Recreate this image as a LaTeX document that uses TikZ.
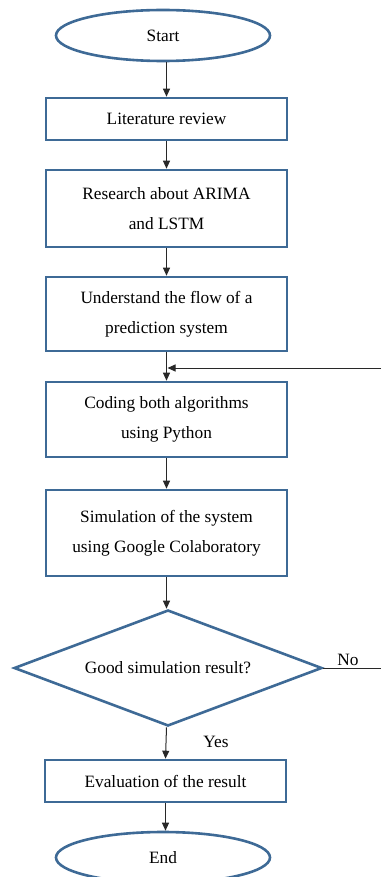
\documentclass[tikz,border=0pt]{standalone}
\usepackage{fontspec}
\setmainfont{Liberation Serif}
\usetikzlibrary{shapes.geometric,arrows.meta}
\definecolor{boxblue}{RGB}{62,106,150}
\definecolor{linegray}{RGB}{40,40,40}
\tikzset{
  base/.style={draw=boxblue, line width=2.6pt, font=\fontsize{17.3}{30}\selectfont, align=center, inner sep=0pt},
  procbox/.style={base, rectangle, minimum width=241pt},
  termnode/.style={base, ellipse, minimum width=214pt, minimum height=51pt},
  decnode/.style={base, diamond, aspect=2.655, minimum width=308pt, minimum height=116pt},
  conn/.style={draw=linegray, line width=1pt},
  arr/.style={conn, -{Triangle[length=8pt,width=7pt]}},
  lbl/.style={font=\fontsize{17.3}{20}\selectfont, inner sep=0pt}
}
\begin{document}
\begin{tikzpicture}[x=1pt,y=-1pt]
\useasboundingbox (0,0) rectangle (381,877);
\begin{scope}
\clip (0,0) rectangle (381,877);
\node[termnode] (start) at (163,35.5) {Start};
\node[procbox, minimum height=42pt] (lit) at (166.5,119) {Literature review};
\node[procbox, minimum height=77pt] (res) at (166.5,208.5) {Research about ARIMA\\and LSTM};
\node[procbox, minimum height=74pt] (und) at (166.5,314) {Understand the flow of a\\prediction system};
\node[procbox, minimum height=75pt] (cod) at (166.5,419.5) {Coding both algorithms\\using Python};
\node[procbox, minimum height=86pt] (sim) at (166.5,533) {Simulation of the system\\using Google Colaboratory};
\node[decnode] (dia) at (168,668) {Good simulation result?};
\node[procbox, minimum height=42pt] (eva) at (165.5,781) {Evaluation of the result};
\node[termnode] (end) at (163,857.5) {End};

\coordinate (fb) at (381,368);
\coordinate (no) at (381,668);

\draw[arr] (start.south -| lit.north) -- (lit.north);
\draw[arr] (lit.south) -- (res.north);
\draw[arr] (res.south) -- (und.north);
\draw[arr] (und.south) -- (cod.north);
\draw[arr] (fb) -- ([xshift=1pt]und.south |- fb);
\draw[arr] (cod.south) -- (sim.north);
\draw[arr] (sim.south) -- (sim.south |- dia.north);
\draw[arr] (sim.south |- dia.south) -- (eva.north);
\draw[arr] (eva.south) -- (eva.south |- end.north);
\draw[conn] (dia.east) -- (no);
\node[lbl] (nolbl) at (348,660) {No};
\node[lbl] (yeslbl) at (216,742) {Yes};
\end{scope}
\end{tikzpicture}
\end{document}
